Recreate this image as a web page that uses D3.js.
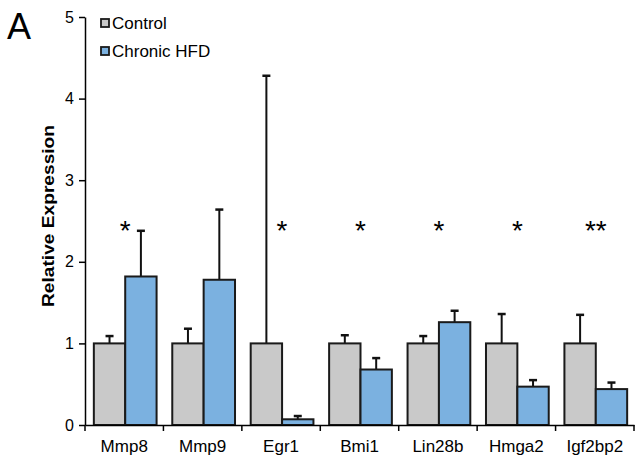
<!DOCTYPE html>
<html>
<head>
<meta charset="utf-8">
<script src="https://cdn.jsdelivr.net/npm/d3@7"></script>
<style>
  body { margin: 0; background: #fff; }
  svg { font-family: "Liberation Sans", Arial, sans-serif; }
  .axis path, .axis line { stroke: #000; stroke-width: 1.5; }
  .axis text { font-size: 17px; fill: #000; }
</style>
</head>
<body>
<svg width="636" height="459"></svg>
<script>
// gene names on the x axis
const genes = ["Mmp8", "Mmp9", "Egr1", "Bmi1", "Lin28b", "Hmga2", "Igf2bp2"];
const groups = ["Control", "Chronic HFD"];

// mean relative expression and top of error bar
const controlMean = [1, 1, 1, 1, 1, 1, 1];
const controlErr  = [1.09, 1.18, 4.28, 1.10, 1.09, 1.36, 1.35];
const hfdMean     = [1.82, 1.78, 0.07, 0.68, 1.26, 0.47, 0.44];
const hfdErr      = [2.38, 2.64, 0.11, 0.82, 1.40, 0.55, 0.52];

// significance marks per gene
const stars = ["*", "", "*", "*", "*", "*", "**"];
const yTicks = [0, 1, 2, 3, 4, 5];

const colors = ["#c9c9c9", "#7bb1e0"];

var svg = d3.select("svg");
var pArea = [85, 17, 634, 425];

var x0 = d3.scaleBand()
  .domain(genes)
  .range([pArea[0], pArea[2]])
  .paddingInner(0.2)
  .paddingOuter(0.1);

var xCat = d3.scaleBand()
  .domain(genes)
  .range([pArea[0], pArea[2]]);

var x1 = d3.scaleBand()
  .domain(groups)
  .range([0, x0.bandwidth()]);

var y = d3.scaleLinear()
  .domain([0, 5])
  .range([pArea[3], pArea[1]]);

var rows = genes.map((g, i) => ({
  gene: g,
  vals: [
    {group: groups[0], mean: controlMean[i], err: controlErr[i], c: colors[0]},
    {group: groups[1], mean: hfdMean[i], err: hfdErr[i], c: colors[1]}
  ]
}));

var g = svg.append("g");

var cat = g.selectAll(".cat")
  .data(rows)
  .enter().append("g")
  .attr("class", "cat")
  .attr("transform", d => `translate(${x0(d.gene) + 1}, 0)`);

// error bars (upper only)
cat.selectAll(".err")
  .data(d => d.vals)
  .enter().append("line")
  .attr("x1", d => x1(d.group) + x1.bandwidth() / 2)
  .attr("x2", d => x1(d.group) + x1.bandwidth() / 2)
  .attr("y1", d => y(d.mean))
  .attr("y2", d => y(d.err))
  .attr("stroke", "#111")
  .attr("stroke-width", 2);

cat.selectAll(".cap")
  .data(d => d.vals)
  .enter().append("line")
  .attr("x1", d => x1(d.group) + x1.bandwidth() / 2 - 4)
  .attr("x2", d => x1(d.group) + x1.bandwidth() / 2 + 4)
  .attr("y1", d => y(d.err))
  .attr("y2", d => y(d.err))
  .attr("stroke", "#111")
  .attr("stroke-width", 2.5);

cat.selectAll("rect")
  .data(d => d.vals)
  .enter().append("rect")
  .attr("x", d => x1(d.group))
  .attr("y", d => y(d.mean))
  .attr("width", x1.bandwidth())
  .attr("height", d => y(0) - y(d.mean))
  .attr("fill", d => d.c)
  .attr("stroke", "#1a1a1a")
  .attr("stroke-width", 2);

// asterisks
g.selectAll(".star")
  .data(rows)
  .enter().append("text")
  .attr("class", "star")
  .attr("x", (d, i) => xCat(d.gene) + xCat.bandwidth() / 2 + 1)
  .attr("y", y(2.25) - 1)
  .attr("text-anchor", "middle")
  .style("font-size", "28px")
  .text((d, i) => stars[i]);

// y-axis
g.append("g")
  .attr("class", "axis axis--y")
  .attr("transform", `translate(${pArea[0]}, 0)`)
  .call(d3.axisLeft(y).tickValues(yTicks).tickFormat(d3.format("d"))
    .tickSize(6).tickSizeOuter(0).tickPadding(5))
  .call(a => a.selectAll("text").style("font-size", "16px"));

// x-axis with ticks on category boundaries
var xAxis = g.append("g")
  .attr("class", "axis axis--x")
  .attr("transform", `translate(0, ${pArea[3]})`)
  .call(d3.axisBottom(xCat).tickSize(0).tickPadding(15));

xAxis.selectAll(".bound")
  .data(genes.concat(["end"]))
  .enter().append("line")
  .attr("class", "bound")
  .attr("x1", (d, i) => i < genes.length ? xCat(d) : pArea[2])
  .attr("x2", (d, i) => i < genes.length ? xCat(d) : pArea[2])
  .attr("y1", 0)
  .attr("y2", 6);

// y label
g.append("text")
  .attr("transform", `translate(54, 216) rotate(-90)`)
  .attr("text-anchor", "middle")
  .attr("textLength", 182)
  .attr("lengthAdjust", "spacingAndGlyphs")
  .style("font-size", "17px")
  .style("font-weight", "bold")
  .text("Relative Expression");

// panel letter
svg.append("text")
  .attr("x", 7)
  .attr("y", 39)
  .style("font-size", "36px")
  .text("A");

// legend
var leg = svg.append("g").attr("transform", "translate(101, 19)");
groups.forEach((name, i) => {
  leg.append("rect")
    .attr("x", 0)
    .attr("y", i * 28)
    .attr("width", 8)
    .attr("height", 8)
    .attr("fill", colors[i])
    .attr("stroke", "#1a1a1a")
    .attr("stroke-width", 1.8);
  leg.append("text")
    .attr("x", 11)
    .attr("y", i * 28 + 10)
    .style("font-size", "17px")
    .text(name);
});
</script>
</body>
</html>
